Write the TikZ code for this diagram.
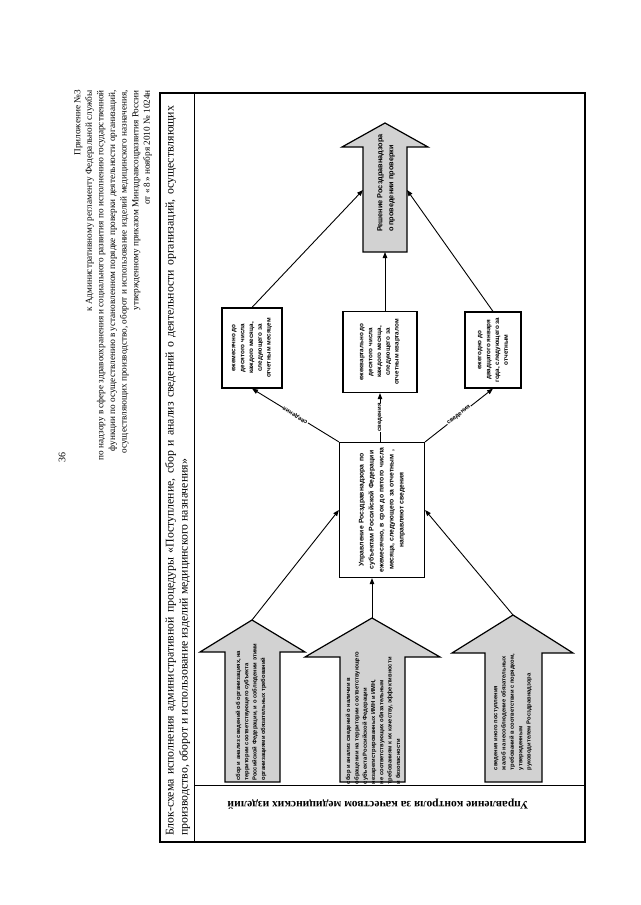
\documentclass[tikz,border=0pt]{standalone}
\usepackage{fontspec}
\setmainfont{Liberation Serif}
\setsansfont{Liberation Sans}
\usetikzlibrary{arrows.meta}

\begin{document}
\begin{tikzpicture}[x=1pt,y=-1pt,
  conn/.style={-{Triangle[length=6pt,width=4.5pt]}, line width=0.9pt},
  infobox/.style={draw, line width=1.2pt, fill=white, rotate=90, align=center, inner sep=1pt,
    font=\sffamily\bfseries\fontsize{6.3}{8.8}\selectfont},
  fatarrow/.style={draw, line width=1.2pt, fill=gray!35},
  arrowtext/.style={rotate=90, align=left, inner sep=0pt,
    font=\sffamily\bfseries\fontsize{5.8}{8.3}\selectfont},
  infolabel/.style={fill=white, inner sep=0.5pt, font=\sffamily\bfseries\fontsize{6}{7}\selectfont}]
\useasboundingbox (0,0) rectangle (640,905);

   % page number and header
   \node[rotate=90, font=\fontsize{10}{12}\selectfont] at (62,457) (pagenum) {36};
   \node[rotate=90, anchor=north east, align=right, inner sep=0pt,
     font=\fontsize{9.2}{11.6}\selectfont] at (74,90) (header) {Приложение №3\\
     к Административному регламенту Федеральной службы\\
     по надзору в сфере здравоохранения и социального развития по исполнению государственной\\
     функции по осуществлению в установленном порядке проверки деятельности организаций,\\
     осуществляющих производство, оборот и использование изделий медицинского назначения,\\
     утвержденному приказом Минздравсоцразвития России\\
     от «\,8\,» ноября 2010 № 1024н};

   % frame
   \draw[line width=1.6pt] (160,93) rectangle (585,842);
   \draw[line width=0.9pt] (194,93) -- (194,842);
   \draw[line width=0.9pt] (194,785) -- (585,785);
   \node[rotate=90, anchor=north west, align=left, inner sep=0pt,
     font=\fontsize{11.8}{14}\selectfont] at (165,836) (title)
     {\makebox[730pt][s]{Блок-схема исполнения административной процедуры «Поступление, сбор и анализ сведений о деятельности организаций, осуществляющих}\\
     производство, оборот и использование изделий медицинского назначения»};
   \node[rotate=180, font=\bfseries\fontsize{11.5}{13}\selectfont] at (378,804) (dept)
     {Управление контроля за качеством медицинских изделий};

   % incoming arrows
   \draw[fatarrow] (225,782) -- (225,652) -- (200,652) -- (252,620) -- (305,652) -- (280,652) -- (280,782) -- cycle;
   \draw[fatarrow] (340,782) -- (340,657) -- (305,657) -- (372,618) -- (440,657) -- (405,657) -- (405,782) -- cycle;
   \draw[fatarrow] (485,782) -- (485,653) -- (452,653) -- (513,615) -- (573,653) -- (542,653) -- (542,782) -- cycle;
   \coordinate (in1) at (252,620);
   \coordinate (in2) at (372,618);
   \coordinate (in3) at (513,615);
   \node[arrowtext] at (251,712) (src1) {сбор и анализ сведений об организациях, на\\
     территории соответствующего субъекта\\
     Российской Федерации, и о соблюдении этими\\
     организациями обязательных требований};
   \node[arrowtext] at (373,718) (src2) {сбор и анализ сведений о наличии в\\
     обращении на территории соответствующего\\
     субъекта Российской Федерации\\
     незарегистрированных ИМН и ИМН,\\
     не соответствующих обязательным\\
     требованиям к их качеству, эффективности\\
     и безопасности};
   \node[arrowtext] at (513,712) (src3) {сведения иного поступления\\
     жалоб на несоблюдение обязательных\\
     требований в соответствии с порядком,\\
     утвержденным\\
     руководителем Росздравнадзора};

   % regional offices
   \node[infobox, minimum width=135pt, minimum height=85pt, text width=125pt,
     font=\sffamily\bfseries\fontsize{6.8}{10}\selectfont] at (382,510) (hub)
     {Управление Росздравнадзора по\\ субъектам Российской Федерации\\ ежемесячно, в срок до пятого числа\\ месяца, следующего за отчетным ,\\ направляют сведения};
   \draw[conn] (in1) -- (hub.north);
   \draw[conn] (in2) -- (in2 |- hub.west);
   \draw[conn] (in3) -- (hub.south);

   % deadlines
   \node[infobox, minimum width=80pt, minimum height=60pt] at (252,348) (monthly)
     {ежемесячно до\\ десятого числа\\ каждого месяца,\\ следующего за\\ отчетным месяцем};
   \node[infobox, minimum width=81pt, minimum height=74pt] at (380,352) (quarterly)
     {ежеквартально до\\ десятого числа\\ каждого месяца,\\ следующего за\\ отчетным кварталом};
   \node[infobox, minimum width=76pt, minimum height=56pt] at (493,350) (yearly)
     {ежегодно до\\ двадцатого января\\ года, следующего за\\ отчетным};
   \draw[conn] (hub.north east) -- (monthly.west) node[midway, infolabel, rotate=148] (lab1) {сведения};
   \draw[conn] (hub.east -| quarterly.west) -- (quarterly.west) node[midway, infolabel, rotate=90] (lab2) {сведения};
   \draw[conn] (hub.south east) -- (yearly.west) node[midway, infolabel, rotate=39] (lab3) {сведения};

   % decision
   \draw[fatarrow] (363,252) -- (363,147) -- (342,147) -- (385,123) -- (428,147) -- (407,147) -- (407,252) -- cycle;
   \coordinate (decL) at (363,190);
   \coordinate (decR) at (407,190);
   \coordinate (decB) at (385,252);
   \node[rotate=90, align=left, inner sep=0pt, font=\sffamily\bfseries\fontsize{7.3}{11}\selectfont]
     at (386,183) (decision) {Решение Росздравнадзора\\ о проведении проверки};
   \draw[conn] (monthly.east) -- (decL);
   \draw[conn] (quarterly.east -| decB) -- (decB);
   \draw[conn] (yearly.east) -- (decR);

    \end{tikzpicture}
\end{document}
